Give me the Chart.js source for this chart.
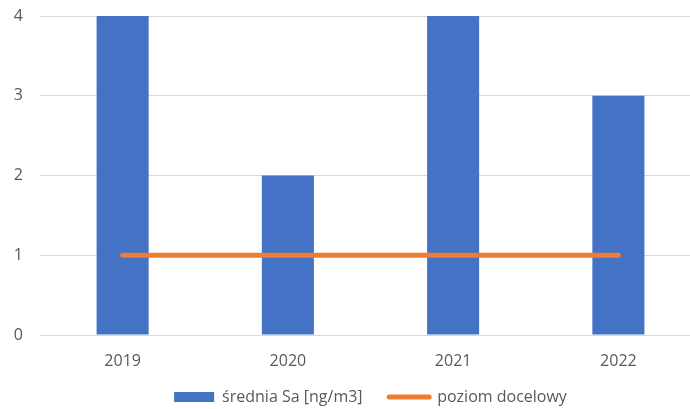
<!DOCTYPE html>
<html>
<head>
<meta charset="utf-8">
<script src="https://cdn.jsdelivr.net/npm/chart.js@4/dist/chart.umd.min.js"></script>
<style>
html,body{margin:0;padding:0;overflow:hidden;background:#fff;}
#wrap{width:702px;height:409px;}
</style>
</head>
<body>
<div id="wrap"><canvas id="c" width="702" height="409"></canvas></div>
<script>
const categories = ['2019', '2020', '2021', '2022'];
const sredniaSa = [4, 2, 4, 3];
const poziomDocelowy = [1, 1, 1, 1];
const yTicks = [0, 1, 2, 3, 4];

const seriesNames = ['średnia Sa [ng/m3]', 'poziom docelowy'];
const BLUE = '#4472C4', ORANGE = '#ED7D31', TXT = '#595959', GRID = '#D9D9D9';
const FONT = {family: '"Open Sans", "Noto Sans", sans-serif', size: 16};

new Chart(document.getElementById('c'), {
  data: {
    labels: categories,
    datasets: [
      {type: 'line', label: seriesNames[1], data: poziomDocelowy, borderColor: ORANGE, backgroundColor: ORANGE,
       borderWidth: 5, borderCapStyle: 'round', pointRadius: 0, order: 0},
      {type: 'bar', label: seriesNames[0], data: sredniaSa, backgroundColor: BLUE, borderWidth: 0,
       categoryPercentage: 1, barPercentage: 0.315, order: 1}
    ]
  },
  options: {
    responsive: false,
    animation: false,
    layout: {padding: {top: 16, left: 0, right: 1, bottom: -6}},
    plugins: {
      tooltip: {enabled: false},
      legend: {
        position: 'bottom',
        fullSize: false,
        labels: {
          font: FONT, color: TXT, usePointStyle: true, pointStyleWidth: 40, boxHeight: 10, padding: 10,
          generateLabels: (chart) => [
            {text: seriesNames[0] + '    ', fillStyle: BLUE, strokeStyle: BLUE, lineWidth: 0, pointStyle: 'rect', fontColor: TXT, datasetIndex: 1},
            {text: seriesNames[1], fillStyle: ORANGE, strokeStyle: ORANGE, lineWidth: 5, lineCap: 'round', pointStyle: 'line', fontColor: TXT, datasetIndex: 0}
          ]
        }
      }
    },
    scales: {
      x: {
        grid: {display: false, drawTicks: false},
        border: {display: false},
        ticks: {font: FONT, color: TXT, padding: 17},
        afterFit: (s) => { s.height = 44; }
      },
      y: {
        min: 0, max: 4,
        afterBuildTicks: (s) => { s.ticks = yTicks.map(v => ({value: v})); },
        grid: {color: GRID, lineWidth: 1, drawTicks: false},
        border: {display: false},
        ticks: {font: FONT, color: TXT, padding: 17},
        afterFit: (s) => { s.width = 40; s.paddingTop = 0; s.paddingBottom = 0; }
      }
    }
  }
});
</script>
</body>
</html>
